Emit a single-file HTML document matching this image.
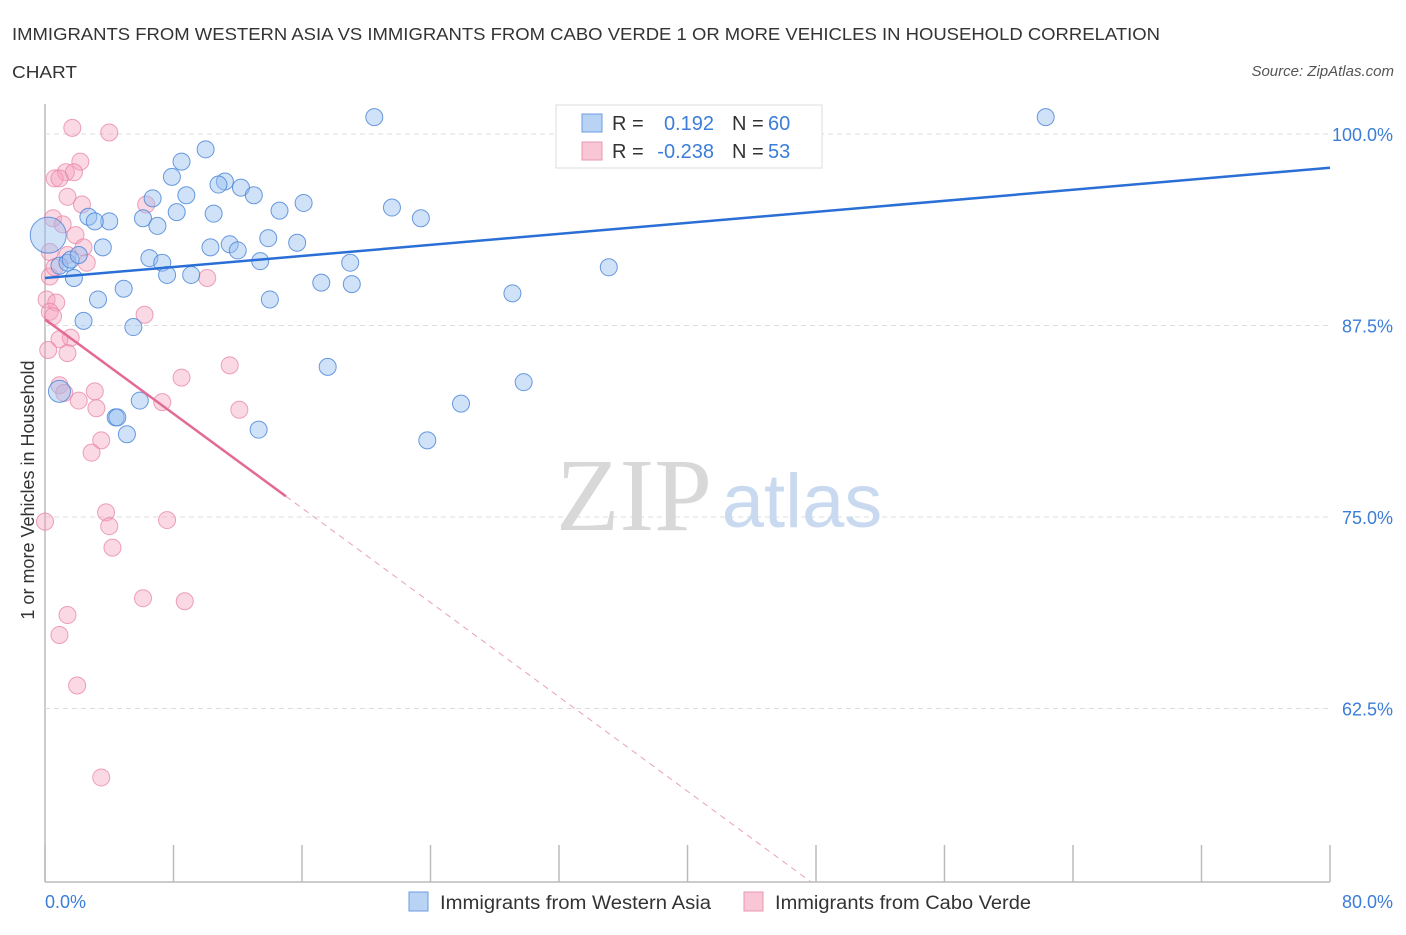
<!DOCTYPE html>
<html><head><meta charset="utf-8"><style>
body{margin:0;background:#fff;font-family:"Liberation Sans",sans-serif;}
</style></head><body>
<svg id="c" width="1406" height="930" xmlns="http://www.w3.org/2000/svg" style="font-family:'Liberation Sans',sans-serif">
<text x="12" y="40" font-size="17.5" fill="#333" textLength="1148" lengthAdjust="spacingAndGlyphs">IMMIGRANTS FROM WESTERN ASIA VS IMMIGRANTS FROM CABO VERDE 1 OR MORE VEHICLES IN HOUSEHOLD CORRELATION</text>
<text x="12" y="78" font-size="17.5" fill="#333" textLength="65" lengthAdjust="spacingAndGlyphs">CHART</text>
<text x="1394" y="76" font-size="15" fill="#555" font-style="italic" text-anchor="end">Source: ZipAtlas.com</text>
<text transform="translate(34,490) rotate(-90)" font-size="18" fill="#333" text-anchor="middle">1 or more Vehicles in Household</text>
<g id="grid"></g>
<text x="634" y="530" font-size="104" fill="#d8d8d8" font-family="Liberation Serif,serif" text-anchor="middle">ZIP</text>
<text x="802" y="527" font-size="76" fill="#c9daf0" text-anchor="middle">atlas</text>
<g id="pts"></g>
<g id="lines"></g>
<g>
<rect x="556" y="105" width="266" height="63" fill="#fff" stroke="#ddd"/>
<rect x="582" y="114" width="20" height="18" fill="#b9d3f5" stroke="#6a9be0"/>
<rect x="582" y="142" width="20" height="18" fill="#f9c6d6" stroke="#e898b2"/>
<text x="612" y="130" font-size="20" fill="#333">R =</text><text x="714" y="130" font-size="20" fill="#3b7dd8" text-anchor="end">0.192</text>
<text x="732" y="130" font-size="20" fill="#333">N =</text><text x="768" y="130" font-size="20" fill="#3b7dd8">60</text>
<text x="612" y="158" font-size="20" fill="#333">R =</text><text x="714" y="158" font-size="20" fill="#3b7dd8" text-anchor="end">-0.238</text>
<text x="732" y="158" font-size="20" fill="#333">N =</text><text x="768" y="158" font-size="20" fill="#3b7dd8">53</text>
</g>
<g>
<rect x="409" y="892" width="19" height="19" fill="#b9d3f5" stroke="#6a9be0"/>
<text x="440" y="909" font-size="19" fill="#333" textLength="271" lengthAdjust="spacingAndGlyphs">Immigrants from Western Asia</text>
<rect x="744" y="892" width="19" height="19" fill="#f9c6d6" stroke="#e898b2"/>
<text x="775" y="909" font-size="19" fill="#333" textLength="256" lengthAdjust="spacingAndGlyphs">Immigrants from Cabo Verde</text>
</g>
</svg>
<script>
const yTicks=[100,87.5,75,62.5];
const yTickLabels=["100.0%","87.5%","75.0%","62.5%"];
const xTickVals=[0,8,16,24,32,40,48,56,64,72,80];
const blueX=[20.5,62.3,42.2,10.0,8.5,7.9,11.2,10.8,12.2,6.7,8.8,13.0,16.1,14.6,21.6,23.4,8.2,10.5,6.1,2.7,4.0,3.1,7.0,0.2,13.9,15.7,11.5,10.3,12.0,3.6,6.5,7.3,13.4,19.0,35.1,0.9,1.4,7.6,9.1,1.8,17.2,19.1,4.9,29.1,3.3,14.0,2.4,5.5,17.6,29.8,0.9,5.9,25.9,4.4,4.5,13.3,5.1,23.8,1.6,2.1];
const blueY=[101.1,101.1,101.1,99.0,98.2,97.2,96.9,96.7,96.5,95.8,96.0,96.0,95.5,95.0,95.2,94.5,94.9,94.8,94.5,94.6,94.3,94.3,94.0,93.4,93.2,92.9,92.8,92.6,92.4,92.6,91.9,91.6,91.7,91.6,91.3,91.4,91.6,90.8,90.8,90.6,90.3,90.2,89.9,89.6,89.2,89.2,87.8,87.4,84.8,83.8,83.2,82.6,82.4,81.5,81.5,80.7,80.4,80.0,91.8,92.1];
const pinkX=[1.7,4.0,2.2,1.3,1.8,0.6,0.9,1.4,2.3,6.3,0.5,1.1,1.9,2.4,0.3,1.4,2.6,10.1,0.3,0.6,0.1,0.7,0.3,0.5,6.2,1.6,0.9,0.2,1.4,8.5,11.5,0.9,1.2,3.1,7.3,2.1,3.2,12.1,3.5,2.9,0.0,3.8,4.0,7.6,4.2,6.1,8.7,1.4,0.9,2.0,3.5];
const pinkY=[100.4,100.1,98.2,97.5,97.5,97.1,97.1,95.9,95.4,95.4,94.5,94.1,93.4,92.6,92.3,92.1,91.6,90.6,90.7,91.3,89.2,89.0,88.4,88.1,88.2,86.7,86.6,85.9,85.7,84.1,84.9,83.6,83.1,83.2,82.5,82.6,82.1,82.0,80.0,79.2,74.7,75.3,74.4,74.8,73.0,69.7,69.5,68.6,67.3,64.0,58.0];
const blueTrend=[90.6,97.8];
const pinkTrend=[87.9,-0.77];
const NS="http://www.w3.org/2000/svg";
const X0=45,X1=1330,Y100=134,PX125=191.5,YBOT=882;
const sx=v=>X0+(v/80)*(X1-X0);
const sy=v=>Y100+(100-v)/12.5*PX125;
function mk(t,a,p){const e=document.createElementNS(NS,t);for(const k in a)e.setAttribute(k,a[k]);p.appendChild(e);return e;}
const grid=document.getElementById('grid');
mk('line',{x1:X0,y1:104,x2:X0,y2:YBOT,stroke:'#bbb','stroke-width':1.5},grid);
mk('line',{x1:X0,y1:YBOT,x2:X1,y2:YBOT,stroke:'#bbb','stroke-width':1.5},grid);
yTicks.forEach((v,i)=>{
 const g=mk('line',{x1:X0,y1:sy(v),x2:1330,y2:sy(v),stroke:'#ddd','stroke-dasharray':'5,4'},grid);
 
 
 const t=mk('text',{x:1393,y:sy(v)+7,'font-size':18,fill:'#3b7dd8','text-anchor':'end'},grid);
 t.textContent=yTickLabels[i];
 
 
});
xTickVals.forEach(v=>{
 const l=mk('line',{x1:sx(v),y1:845,x2:sx(v),y2:YBOT,stroke:'#bbb','stroke-width':1.5},grid);
 
 
});
const xl=mk('text',{x:45,y:908,'font-size':18,fill:'#3b7dd8'},grid);xl.textContent='0.0%';


const xr=mk('text',{x:1393,y:908,'font-size':18,fill:'#3b7dd8','text-anchor':'end'},grid);xr.textContent='80.0%';


const pts=document.getElementById('pts');
pinkX.forEach((x,i)=>{
 const c=mk('circle',{cx:sx(x),cy:sy(pinkY[i]),r:8.5,fill:'rgba(244,160,188,0.4)',stroke:'rgba(232,130,165,0.75)','stroke-width':1},pts);
 
 
});
blueX.forEach((x,i)=>{
 const r=i===23?18:(i===50?11:8.5);
 const c=mk('circle',{cx:sx(x),cy:sy(blueY[i]),r:r,fill:'rgba(150,190,240,0.45)',stroke:'rgba(70,130,215,0.8)','stroke-width':1},pts);
 
 
});
const ln=document.getElementById('lines');
const bl=mk('line',{x1:sx(0),y1:sy(blueTrend[0]),x2:sx(80),y2:sy(blueTrend[1]),stroke:'#2a6fd6','stroke-width':2.5},ln);


const pf=x=>pinkTrend[0]+pinkTrend[1]*x;
const xEnd=(pinkTrend[0]-51.2)/(-pinkTrend[1]);
const pl=mk('line',{x1:sx(0),y1:sy(pf(0)),x2:sx(15),y2:sy(pf(15)),stroke:'#e36a94','stroke-width':2.5},ln);


const pd=mk('line',{x1:sx(15),y1:sy(pf(15)),x2:sx(xEnd),y2:sy(pf(xEnd)),stroke:'#e8a0b8','stroke-width':1,'stroke-dasharray':'6,5'},ln);


</script>
</body></html>
